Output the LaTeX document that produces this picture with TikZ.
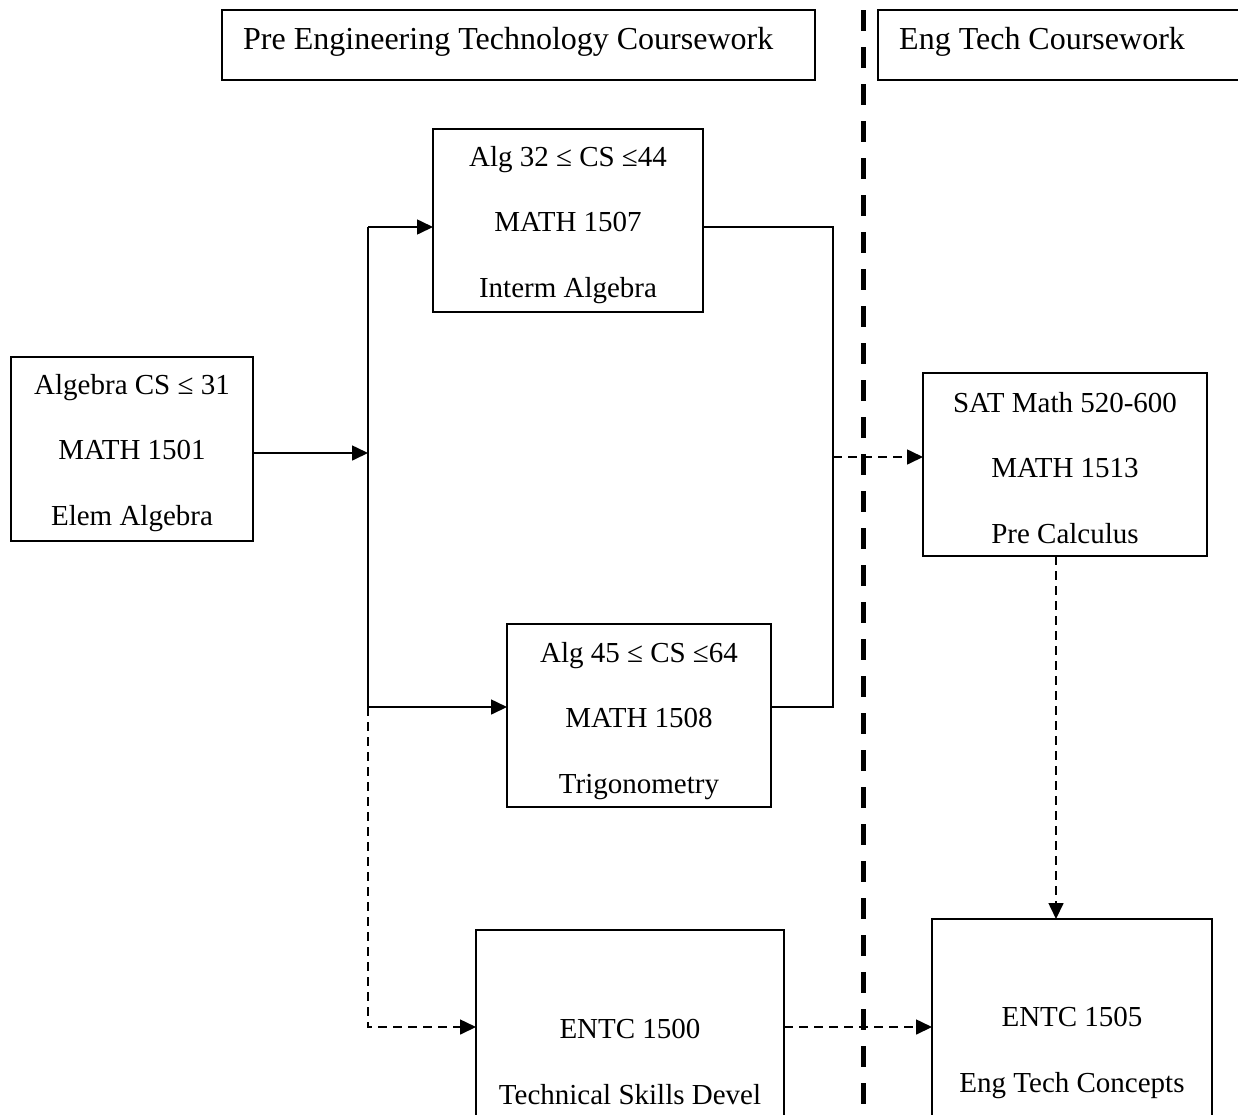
\documentclass[tikz,border=0pt]{standalone}
\usepackage{fontspec}
\setmainfont{Liberation Serif}
\usetikzlibrary{arrows.meta}
\newcommand\boxfont{\fontsize{29}{65.5}\selectfont}
\newcommand\headfont{\fontsize{32}{38}\selectfont}
\begin{document}
\begin{tikzpicture}[x=1pt,y=-1pt,
  box/.style={draw, line width=2pt, inner sep=0pt, outer sep=0pt},
  txt/.style={align=center, font=\boxfont, inner sep=0pt},
  htxt/.style={font=\headfont, inner sep=0pt, anchor=west},
  conn/.style={line width=1.6pt},
  arr/.style={line width=1.6pt, -{Triangle[length=16pt,width=15pt]}},
  dsh/.style={dash pattern=on 9pt off 6pt}]
\useasboundingbox (0,0) rectangle (1238,1114);
\clip (0,0) rectangle (1238,1114);
\fill[white] (0,0) rectangle (1238,1114);

% divider
\draw[line width=5pt, dash pattern=on 21pt off 16pt, dash phase=27pt] (863,0) -- (863,1114);

% headers
\node[box, minimum width=593pt, minimum height=70pt] (H1) at (518.5,45) {};
\node[htxt] (H1t) at (243,42) {Pre Engineering Technology Coursework};
\node[box, minimum width=382pt, minimum height=70pt] (H2) at (1069,45) {};
\node[htxt] (H2t) at (899,42) {Eng Tech Coursework};

% boxes
\node[box, minimum width=242pt, minimum height=184pt] (A) at (132,449) {};
\node[txt] (At) at (132,453) {Algebra CS ≤ 31\\MATH 1501\\Elem Algebra};
\node[box, minimum width=270pt, minimum height=183pt] (B) at (568,220.5) {};
\node[txt] (Bt) at (568,225) {Alg 32 ≤ CS ≤44\\MATH 1507\\Interm Algebra};
\node[box, minimum width=264pt, minimum height=183pt] (C) at (639,715.5) {};
\node[txt] (Ct) at (639,721) {Alg 45 ≤ CS ≤64\\MATH 1508\\Trigonometry};
\node[box, minimum width=308pt, minimum height=210pt] (D) at (630,1035) {};
\node[txt] (Dt) at (630,1062) {ENTC 1500\\Technical Skills Devel};
\node[box, minimum width=284pt, minimum height=183pt] (E) at (1065,464.5) {};
\node[txt] (Et) at (1065,468) {SAT Math 520-600\\MATH 1513\\Pre Calculus};
\node[box, minimum width=280pt, minimum height=221pt] (F) at (1072,1029.5) {};
\node[txt] (Ft) at (1072,1053) {ENTC 1505\\Eng Tech Concepts};

% junction coordinates
\coordinate (j1) at (368,453);
\coordinate (jt) at (368,227);
\coordinate (jb) at (368,707);
\coordinate (jd) at (368,1027);
\coordinate (r1) at (833,227);
\coordinate (r2) at (833,707);
\coordinate (rm) at (833,457);
\coordinate (ed) at (1056,0);

% connectors
\draw[arr] (A.east |- j1) -- (j1);
\draw[conn] (jt) -- (jb);
\draw[arr] (jt) -- (B.west |- jt);
\draw[arr] (jb) -- (C.west |- jb);
\draw[arr, dsh] (jb) -- (jd) -- (D.west |- jd);
\draw[conn] (B.east |- r1) -- (r1) -- (r2) -- (C.east |- r2);
\draw[arr, dsh] (rm) -- (E.west |- rm);
\draw[arr, dsh] (E.south -| ed) -- (F.north -| ed);
\draw[arr, dsh] (D.east |- jd) -- (F.west |- jd);
\end{tikzpicture}
\end{document}
